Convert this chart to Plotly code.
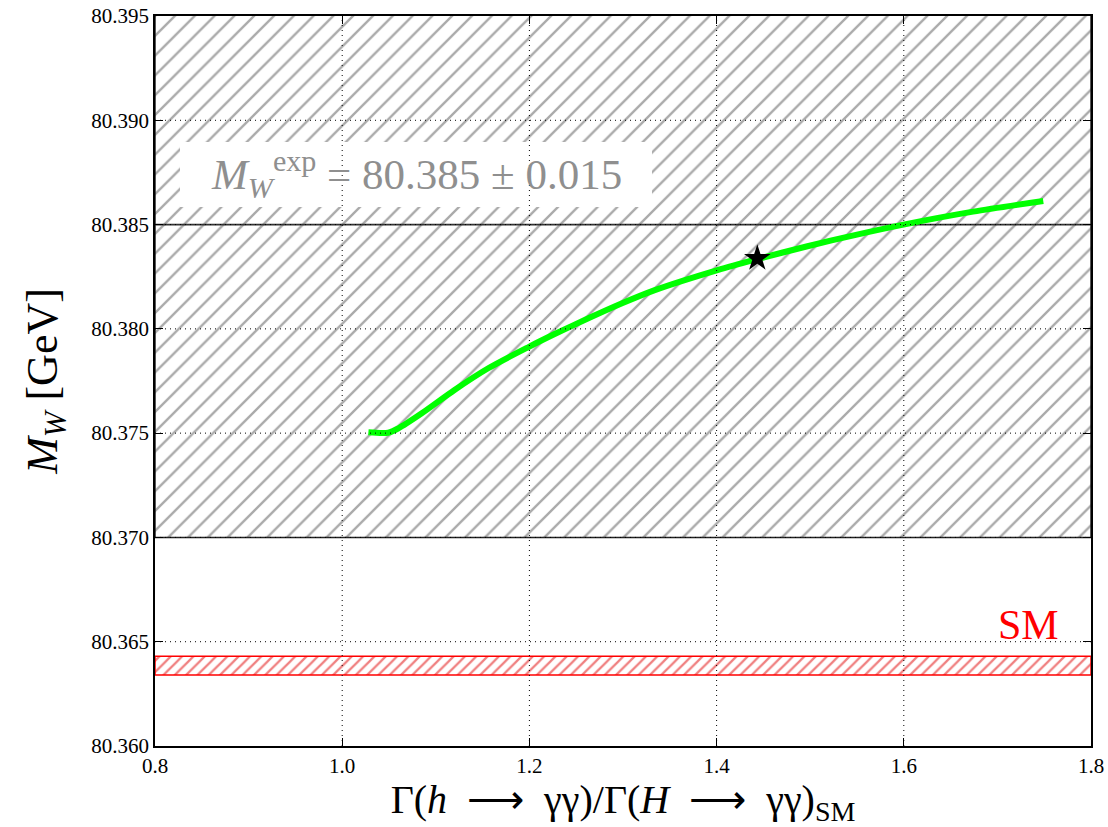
import plotly.graph_objects as go

# ---------------- data ----------------
ratio = [1.028, 1.049, 1.060, 1.085, 1.120, 1.156, 1.200, 1.227, 1.263, 1.299,
         1.334, 1.401, 1.444, 1.496, 1.550, 1.601, 1.674, 1.749]
mw = [80.37504, 80.37502, 80.37523, 80.37595, 80.37707, 80.37811, 80.37915,
      80.37975, 80.38051, 80.38123, 80.38186, 80.38282, 80.38335, 80.38395,
      80.38452, 80.38501, 80.38562, 80.38613]
star_x = [1.4435]
star_y = [80.38338]
mw_exp = 80.385
mw_err = 0.015
sm_low = 80.3634
sm_high = 80.3643
x_range = [0.8, 1.8]
y_range = [80.360, 80.395]
x_ticks = [0.8, 1.0, 1.2, 1.4, 1.6, 1.8]
y_ticks = [80.360, 80.365, 80.370, 80.375, 80.380, 80.385, 80.390, 80.395]

FONT = "Liberation Serif"

fig = go.Figure()

# experimental band (hatched grey)
lo, hi = mw_exp - mw_err, mw_exp + mw_err
fig.add_trace(go.Scatter(
    x=[x_range[0], x_range[1], x_range[1], x_range[0], x_range[0]],
    y=[lo, lo, hi, hi, lo], mode="lines", fill="toself",
    fillcolor="rgba(255,255,255,0)",
    fillpattern=dict(shape="/", size=14, solidity=0.17, fgcolor="#555555",
                     bgcolor="rgba(255,255,255,0)"),
    line=dict(color="#222222", width=1.5), hoverinfo="skip", showlegend=False))

# central value line
fig.add_trace(go.Scatter(x=x_range, y=[mw_exp, mw_exp], mode="lines",
                         line=dict(color="#333333", width=1.8),
                         hoverinfo="skip", showlegend=False))

# white box behind the label
bx0, bx1, by0, by1 = 0.8267, 1.331, 80.38584, 80.38896
fig.add_trace(go.Scatter(x=[bx0, bx1, bx1, bx0, bx0], y=[by0, by0, by1, by1, by0],
                         mode="lines", fill="toself", fillcolor="white",
                         line=dict(width=0, color="white"),
                         hoverinfo="skip", showlegend=False))

# SM band (hatched red)
fig.add_trace(go.Scatter(
    x=[x_range[0], x_range[1], x_range[1], x_range[0], x_range[0]],
    y=[sm_low, sm_low, sm_high, sm_high, sm_low], mode="lines", fill="toself",
    fillcolor="rgba(255,255,255,0)",
    fillpattern=dict(shape="/", size=8, solidity=0.28, fgcolor="#e00000",
                     bgcolor="rgba(255,255,255,0)"),
    line=dict(color="#ff0000", width=1.5), hoverinfo="skip", showlegend=False))

# model curve
fig.add_trace(go.Scatter(x=ratio, y=mw, mode="lines",
                         line=dict(color="#00ff00", width=6, shape="spline", smoothing=0.8),
                         showlegend=False))

# benchmark point
fig.add_trace(go.Scatter(x=star_x, y=star_y, mode="markers",
                         marker=dict(symbol="star", size=20, color="black"),
                         showlegend=False))

# dotted grid drawn on top
shapes = []
for xv in x_ticks[1:-1]:
    shapes.append(dict(type="line", xref="x", yref="paper", x0=xv, x1=xv, y0=0, y1=1,
                       line=dict(color="black", width=1, dash="1px,4px"), layer="above"))
for yv in y_ticks[1:-1]:
    shapes.append(dict(type="line", xref="paper", yref="y", x0=0, x1=1, y0=yv, y1=yv,
                       line=dict(color="black", width=1, dash="1px,4px"), layer="above"))

fig.update_layout(
    width=1108, height=827,
    margin=dict(l=155, r=17, t=16, b=81, autoexpand=False),
    paper_bgcolor="white", plot_bgcolor="white",
    font=dict(family=FONT, color="black"),
    shapes=shapes,
    annotations=[
        dict(x=(bx0 + bx1) / 2, y=(by0 + by1) / 2, xref="x", yref="y",
             text="<i>M</i><sub><i>W</i></sub><sup>exp</sup> = 80.385 ± 0.015",
             showarrow=False, font=dict(size=43, color="#8f8f8f", family=FONT)),
        dict(x=1.733, y=80.3658, xref="x", yref="y", text="SM", showarrow=False,
             font=dict(size=42, color="#ff0000", family=FONT)),
    ],
)

fig.update_xaxes(range=x_range, tickvals=x_ticks, tickformat=".1f", automargin=False,
                 showgrid=False, zeroline=False, showline=True, linecolor="black",
                 linewidth=1.5, mirror="ticks", ticks="inside", ticklen=8,
                 tickcolor="black", tickfont=dict(size=21, family=FONT),
                 title=dict(text="Γ(<i>h</i>  ⟶  γγ)/Γ(<i>H</i>  ⟶  γγ)<sub>SM</sub>",
                            font=dict(size=40, family=FONT), standoff=11))
fig.update_yaxes(range=y_range, tickvals=y_ticks, tickformat=".3f", automargin=False,
                 showgrid=False, zeroline=False, showline=True, linecolor="black",
                 linewidth=1.5, mirror="ticks", ticks="inside", ticklen=8,
                 tickcolor="black", tickfont=dict(size=21, family=FONT),
                 title=dict(text="<i>M</i><sub><i>W</i></sub> [GeV]",
                            font=dict(size=44, family=FONT), standoff=20))

fig.write_html("out.html")
